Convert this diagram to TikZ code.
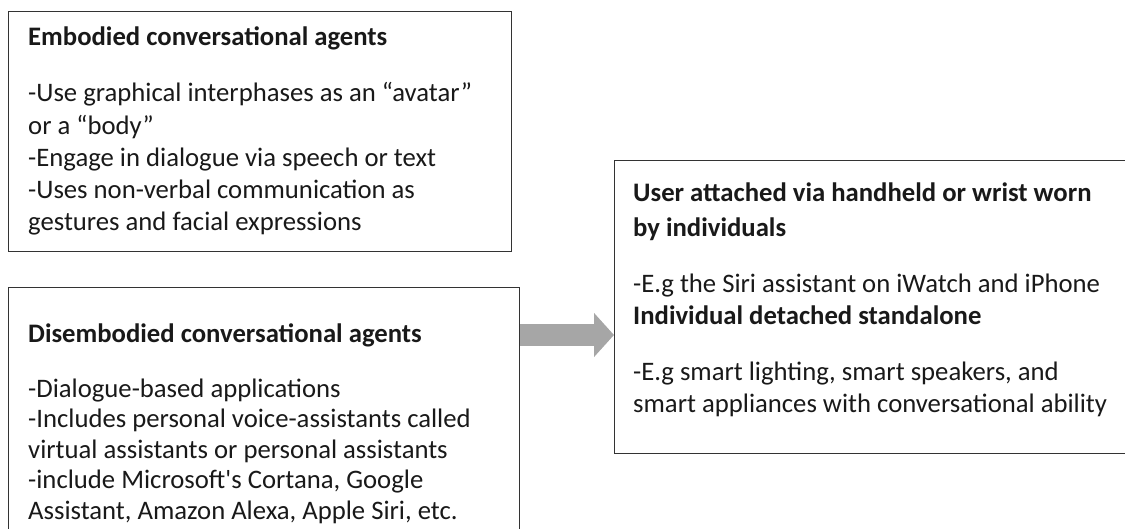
\documentclass[tikz,border=0pt]{standalone}
\usepackage{fontspec}
\setmainfont{Carlito}[Ligatures=TeXOff]
\usetikzlibrary{arrows.meta}
\definecolor{boxline}{HTML}{333333}
\definecolor{arrowgray}{HTML}{A6A6A6}
\begin{document}
\begin{tikzpicture}[x=1pt,y=-1pt,
  box/.style={draw=boxline, line width=1.3pt, rectangle, inner sep=0pt, anchor=north west},
  txt/.style={inner sep=0pt, anchor=base west, align=left, text=black!90, font=\fontsize{26.7}{32.3}\selectfont}]
\useasboundingbox (0,0) rectangle (1125,529);
\node[box, minimum width=503pt, minimum height=240pt] (b1) at (8,11) {};
\node[box, minimum width=511pt, minimum height=262pt] (b2) at (8,287) {};
\node[box, minimum width=522pt, minimum height=293pt] (b3) at (614,160) {};
\node[txt] (t1) at (28,231) {\textbf{Embodied conversational agents}\\[23.7pt]
-Use graphical interphases as an “avatar”\\
or a “body”\\
-Engage in dialogue via speech or text\\
-Uses non-verbal communication as\\
gestures and facial expressions};
\node[txt, font=\fontsize{26.7}{30.5}\selectfont] (t2) at (28,519) {\textbf{Disembodied conversational agents}\\[24.5pt]
-Dialogue-based applications\\
-Includes personal voice-assistants called\\
virtual assistants or personal assistants\\
-include Microsoft's Cortana, Google\\
Assistant, Amazon Alexa, Apple Siri, etc.};
\node[txt] (t3) at (633,413) {\textbf{User attached via handheld or wrist worn}\\[3pt]
\textbf{by individuals}\\[23.7pt]
-E.g the Siri assistant on iWatch and iPhone\\
\textbf{Individual detached standalone}\\[23.7pt]
-E.g smart lighting, smart speakers, and\\
smart appliances with conversational ability};
\coordinate (ay) at (0,335);
\draw[arrowgray, line width=22pt, -{Triangle[length=20pt,width=43pt]}] (b2.east |- ay) -- (b3.west |- ay);
\end{tikzpicture}
\end{document}
